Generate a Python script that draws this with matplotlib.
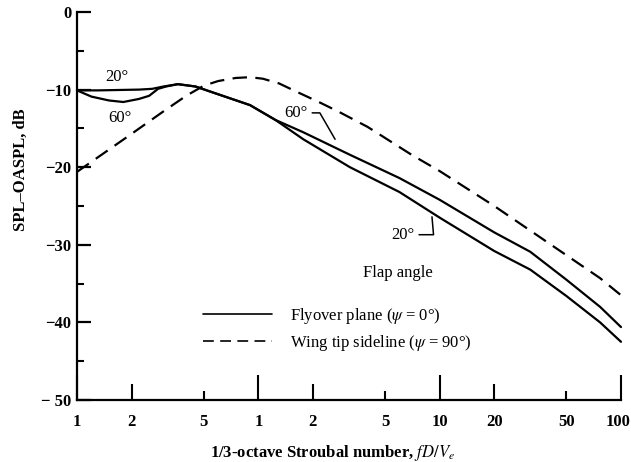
import matplotlib
matplotlib.use("Agg")
import matplotlib.pyplot as plt
import matplotlib.transforms as mtransforms
import numpy as np

plt.rcParams['font.family'] = ['Liberation Serif', 'DejaVu Serif']
plt.rcParams['mathtext.fontset'] = 'stix'

# flyover plane, flap angle 20 deg
x20 = [0.1, 0.13, 0.17, 0.22, 0.26, 0.3, 0.36, 0.45, 0.6, 0.9, 1.24, 1.77,
       3.2, 6.0, 10, 20, 31.6, 50, 76.7, 100]
y20 = [-10.1, -10.1, -10.05, -10.0, -9.9, -9.6, -9.3, -9.6, -10.6, -12.0,
       -13.9, -16.4, -20.0, -23.2, -26.5, -30.8, -33.2, -36.6, -40.0, -42.5]

# flyover plane, flap angle 60 deg
x60 = [0.1, 0.12, 0.15, 0.18, 0.22, 0.25, 0.28, 0.31, 0.36, 0.45, 0.6, 0.9,
       1.24, 1.77, 3.2, 6.0, 10, 20, 31.6, 50, 76.7, 100]
y60 = [-10.1, -10.9, -11.4, -11.6, -11.2, -10.8, -9.9, -9.6, -9.3, -9.6,
       -10.6, -12.0, -13.9, -15.5, -18.4, -21.4, -24.2, -28.4, -30.9, -34.5,
       -38.0, -40.6]

# wing tip sideline
xside = [0.1, 0.2, 0.3, 0.4, 0.5, 0.6, 0.75, 0.9, 1.06, 1.3, 1.6, 2.2, 2.8,
         4.0, 4.9, 7.0, 10, 20, 40, 76.7, 100]
yside = [-20.6, -15.7, -12.8, -10.8, -9.5, -8.9, -8.5, -8.4, -8.6, -9.2,
         -10.2, -11.7, -12.9, -14.8, -16.1, -18.4, -20.5, -25.0, -29.8,
         -34.3, -36.5]

xticks = [0.1, 0.2, 0.5, 1, 2, 5, 10, 20, 50, 100]
xticklabels = ['1', '2', '5', '1', '2', '5', '10', '20', '50', '100']
yticks = [0, -10, -20, -30, -40, -50]
yticklabels = ['0', '\u221210', '\u221220', '\u221230', '\u221240', '\u2212 50']

fs = 12

fig = plt.figure(figsize=(6.31, 4.62), dpi=100)
ax = fig.add_axes([77/631, 62/462, 544/631, 388/462])

lw = 1.6
ax.plot(x20, y20, color='black', lw=lw, solid_capstyle='round', clip_on=False)
ax.plot(x60, y60, color='black', lw=lw, solid_capstyle='round', clip_on=False,
        label='Flyover plane ($\\psi$ = 0°)')
ax.plot(xside, yside, color='black', lw=lw, linestyle=(0, (6.5, 3.8)),
        clip_on=False, label='Wing tip sideline ($\\psi$ = 90°)')

ax.set_xscale('log')
ax.set_xlim(0.1, 100)
ax.set_ylim(-50, 0)

for s in ['top', 'right']:
    ax.spines[s].set_visible(False)
for s in ['left', 'bottom']:
    ax.spines[s].set_linewidth(1.6)

ax.xaxis.set_minor_locator(matplotlib.ticker.NullLocator())
ax.set_xticks(xticks)
ax.set_xticklabels(xticklabels, fontweight='bold', fontsize=fs)
ax.tick_params(axis='x', direction='in', width=1.5, pad=10)
lengths = [18, 11.5, 6.5] * 3 + [18]
for t, L in zip(ax.xaxis.get_major_ticks(), lengths):
    t.tick1line.set_markersize(L)
# keep the "100" label inside the figure
last = ax.get_xticklabels()[-1]
last.set_horizontalalignment('right')
last.set_transform(last.get_transform() +
                   mtransforms.ScaledTranslation(7/72, 0, fig.dpi_scale_trans))

ax.set_yticks(yticks)
ax.set_yticklabels(yticklabels, fontweight='bold', fontsize=fs)
ax.set_yticks(np.arange(-45, 0, 10), minor=True)
ax.tick_params(axis='y', which='major', direction='in', length=10, width=1.6, pad=4)
ax.tick_params(axis='y', which='minor', direction='in', length=5, width=1.5)

ax.set_xlabel('1/3-octave Stroubal number, $fD/V_e$', fontsize=fs, fontweight='bold')
ax.xaxis.set_label_coords(0.469, -0.112)
ax.set_ylabel('SPL\u2013OASPL, dB', fontsize=fs, fontweight='bold')
ax.yaxis.set_label_coords(-0.088, 0.593)

# flap angle annotations
ax.text(0.166, -8.4, '20°', ha='center', va='center', fontsize=fs)
ax.text(0.173, -13.7, '60°', ha='center', va='center', fontsize=fs)
ax.annotate('60°', xy=(2.65, -16.4), xytext=(1.62, -13.0), ha='center', va='center',
            fontsize=fs,
            arrowprops=dict(arrowstyle='-', lw=1.1, relpos=(1, 0.5), shrinkA=1, shrinkB=0,
                            connectionstyle='angle,angleA=0,angleB=120,rad=0'))
ax.annotate('20°', xy=(9.07, -26.4), xytext=(6.3, -28.7), ha='center', va='center',
            fontsize=fs,
            arrowprops=dict(arrowstyle='-', lw=1.1, relpos=(1, 0.5), shrinkA=1, shrinkB=0,
                            connectionstyle='angle,angleA=0,angleB=95,rad=0'))
ax.text(5.9, -33.6, 'Flap angle', ha='center', va='center', fontsize=fs)

leg = ax.legend(loc='center left', bbox_to_anchor=(0.232, 0.182), frameon=False,
                fontsize=fs, handlelength=4.1, handletextpad=1.1, labelspacing=0.4,
                borderpad=0, borderaxespad=0)
for h in leg.get_lines():
    h.set_linewidth(1.2)

fig.savefig('out.png', dpi=100)
